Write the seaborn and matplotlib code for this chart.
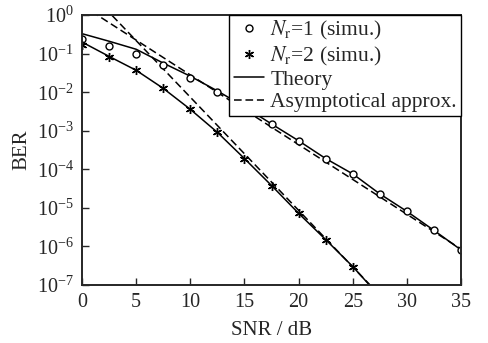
import numpy as np
import pandas as pd
import matplotlib
matplotlib.use("Agg")
import matplotlib.pyplot as plt
import seaborn as sns
from matplotlib.lines import Line2D

# simulated BER, Nr = 1 and Nr = 2
snr_sim1 = [0, 2.5, 5, 7.5, 10, 12.5, 15, 17.5, 20, 22.5, 25, 27.5, 30, 32.5, 35]
ber_sim1 = [0.24, 0.16, 0.098, 0.050, 0.024, 0.0103, 0.0040, 0.0015, 5.5e-4,
            1.86e-4, 7.6e-5, 2.3e-5, 8.1e-6, 2.6e-6, 8.1e-7]
snr_sim2 = [0, 2.5, 5, 7.5, 10, 12.5, 15, 17.5, 20, 22.5, 25]
ber_sim2 = [0.17, 0.083, 0.037, 0.0126, 3.6e-3, 9.1e-4, 1.9e-4, 3.8e-5,
            7.2e-6, 1.5e-6, 3.0e-7]

# theory curves
snr_th1 = snr_sim1
ber_th1 = [0.33, 0.21, 0.13, 0.057, 0.026, 0.0108, 0.0042, 0.0015, 5.5e-4,
           1.9e-4, 7.6e-5, 2.3e-5, 8.1e-6, 2.6e-6, 8.1e-7]
snr_th2 = [0, 2.5, 5, 7.5, 10, 12.5, 15, 17.5, 20, 22.5, 25, 27.5]
ber_th2 = [0.20, 0.085, 0.037, 0.0126, 3.6e-3, 9.1e-4, 1.9e-4, 3.8e-5,
           7.2e-6, 1.5e-6, 3.0e-7, 5e-8]

# asymptotic approximations (straight on log scale)
snr_as1 = [0, 35]
ber_as1 = [1.8, 8.5e-7]
snr_as2 = [0, 30]
ber_as2 = [6.4, 1e-8]

xticks = [0, 5, 10, 15, 20, 25, 30, 35]
yticks = [1e-7, 1e-6, 1e-5, 1e-4, 1e-3, 1e-2, 1e-1, 1e0]

sns.set_style("ticks")
plt.rcParams['font.family'] = ['Liberation Serif', 'DejaVu Serif']
plt.rcParams['mathtext.fontset'] = 'stix'
plt.rcParams['xtick.direction'] = 'in'
plt.rcParams['ytick.direction'] = 'in'

fig = plt.figure(figsize=(4.88, 3.43), dpi=100)
ax = fig.add_axes([0.168, 0.169, 0.777, 0.787])

lw = 1.1
dash = (0, (5, 2.5))
sns.lineplot(x=snr_th1, y=ber_th1, ax=ax, color='k', lw=lw, legend=False)
sns.lineplot(x=snr_th2, y=ber_th2, ax=ax, color='k', lw=lw, legend=False)
sns.lineplot(x=snr_as1, y=ber_as1, ax=ax, color='k', lw=lw, legend=False)
ax.lines[-1].set_linestyle(dash)
sns.lineplot(x=snr_as2, y=ber_as2, ax=ax, color='k', lw=lw, legend=False)
ax.lines[-1].set_linestyle(dash)

sns.lineplot(x=snr_sim1, y=ber_sim1, ax=ax, color='k', linestyle='', marker='o',
             mfc='white', mec='k', ms=5, mew=1.0, legend=False)
sns.lineplot(x=snr_sim2, y=ber_sim2, ax=ax, color='k', linestyle='', marker=(6, 2, 0),
             mec='k', ms=6.5, mew=1.0, legend=False)

ax.set_yscale('log')
ax.set_xlim(0, 35)
ax.set_ylim(1e-7, 1e0)
ax.set_xticks(xticks)
ax.set_yticks(yticks)
ax.yaxis.set_minor_locator(matplotlib.ticker.NullLocator())
ax.tick_params(axis='both', labelsize=14.5, length=5, width=1.0, pad=6)
for s in ax.spines.values():
    s.set_linewidth(1.4)
ax.set_xlabel('SNR / dB', fontsize=15, labelpad=6)
ax.set_ylabel('BER', fontsize=15, labelpad=4)

handles = [
    Line2D([], [], color='k', linestyle='', marker='o', mfc='white', ms=5, mew=1.0),
    Line2D([], [], color='k', linestyle='', marker=(6, 2, 0), ms=6.5, mew=1.0),
    Line2D([], [], color='k', lw=lw),
    Line2D([], [], color='k', lw=lw, linestyle=dash),
]
labels = [r'$N_\mathrm{r}$=1 (simu.)', r'$N_\mathrm{r}$=2 (simu.)', 'Theory', 'Asymptotical approx.']
leg = ax.legend(handles, labels, loc='upper right', fontsize=15.5, frameon=True,
                fancybox=False, edgecolor='k', framealpha=1, borderaxespad=0,
                borderpad=0.2, labelspacing=0.1, handlelength=1.4, handletextpad=0.3)
leg.get_frame().set_linewidth(1.0)

fig.savefig('out.png', dpi=100)
